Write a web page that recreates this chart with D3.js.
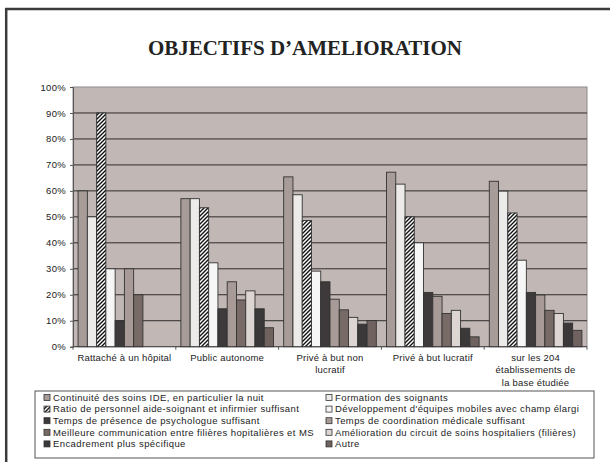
<!DOCTYPE html>
<html>
<head>
<meta charset="utf-8">
<script src="https://cdn.jsdelivr.net/npm/d3@7"></script>
<style>
    body { margin: 0; background: #fff; }
    svg { display: block; }
</style>
</head>
<body>
<svg id="diagram" width="610" height="462"></svg>
<script>
// daten
var kategorien = [
    ["Rattaché à un hôpital"],
    ["Public autonome"],
    ["Privé à but non", "lucratif"],
    ["Privé à but lucratif"],
    ["sur les 204", "établissements de", "la base étudiée"]
];

var serienNamen = [
    "Continuité des soins IDE, en particulier la nuit",
    "Formation des soignants",
    "Ratio de personnel aide-soignant et infirmier suffisant",
    "Développement d'équipes mobiles avec champ élargi",
    "Temps de présence de psychologue suffisant",
    "Temps de coordination médicale suffisant",
    "Meilleure communication entre filières hopitalières et MS",
    "Amélioration du circuit de soins hospitaliers (filières)",
    "Encadrement plus spécifique",
    "Autre"
];

var continuite   = [60, 57, 65.4, 67.2, 63.7];
var formation    = [50, 57, 58.5, 62.6, 59.9];
var ratio        = [90, 53.5, 48.6, 50, 51.5];
var equipes      = [30, 32.3, 29.1, 40, 33.3];
var psychologue  = [10, 14.6, 25, 20.9, 20.9];
var coordination = [30, 25, 18.3, 19.4, 19.9];
var communication = [20, 18, 14.2, 12.8, 14];
var circuit      = [0, 21.5, 11.3, 14, 12.8];
var encadrement  = [0, 14.6, 8.7, 7.1, 9.1];
var autre        = [0, 7.3, 10.1, 3.8, 6.3];

var yTicks = [0, 10, 20, 30, 40, 50, 60, 70, 80, 90, 100];

var serienWerte = [continuite, formation, ratio, equipes, psychologue,
    coordination, communication, circuit, encadrement, autre];

var farben = ["#a89c98", "#ecebea", "url(#hatch)", "#f6f6f6", "#3e3a3b",
    "#a89a96", "#786a67", "#ddd5d2", "#3a3839", "#6f625f"];

var svg = d3.select("#diagram");
var font = "'Liberation Sans', Arial, sans-serif";

var defs = svg.append("defs");
var pat = defs.append("pattern")
    .attr("id", "hatch")
    .attr("patternUnits", "userSpaceOnUse")
    .attr("width", 4)
    .attr("height", 4);
pat.append("rect").attr("width", 4).attr("height", 4).attr("fill", "#fff");
pat.append("path")
    .attr("d", "M-1,1 l2,-2 M0,4 l4,-4 M3,5 l2,-2")
    .attr("stroke", "#111")
    .attr("stroke-width", 1.4);

// rahmen
svg.append("path")
    .attr("d", "M6.2,462 V9 H610")
    .attr("fill", "none")
    .attr("stroke", "#3c3c3e")
    .attr("stroke-width", 2.5);

svg.append("text")
    .attr("x", 305)
    .attr("y", 55)
    .attr("text-anchor", "middle")
    .attr("font-family", "'Liberation Serif', 'Times New Roman', serif")
    .attr("font-weight", "bold")
    .attr("font-size", 21)
    .attr("fill", "#222")
    .text("OBJECTIFS D\u2019AMELIORATION");

// plot
var plotLeft = 73, plotRight = 587, plotTop = 87, plotBottom = 346.7;

var xScale = d3.scaleBand().domain(d3.range(kategorien.length)).range([plotLeft, plotRight]).padding(0);
var sScale = d3.scaleBand().domain(d3.range(serienNamen.length))
    .range([0, xScale.bandwidth()]).paddingInner(0).paddingOuter(0.55);
var yScale = d3.scaleLinear().domain([0, 100]).range([plotBottom, plotTop]);

svg.append("rect")
    .attr("x", plotLeft).attr("y", plotTop)
    .attr("width", plotRight - plotLeft).attr("height", plotBottom - plotTop)
    .attr("fill", "#c1b8b5")
    .attr("stroke", "#8e8a8a")
    .attr("stroke-width", 1);

svg.append("g")
    .selectAll("line")
    .data(yTicks.filter(function (d) { return d > 0 && d < 100; }))
    .enter().append("line")
    .attr("x1", plotLeft).attr("x2", plotRight)
    .attr("y1", function (d) { return yScale(d); })
    .attr("y2", function (d) { return yScale(d); })
    .attr("stroke", "#2e2b2b")
    .attr("stroke-width", 1);

// y-achse
var yAxis = svg.append("g")
    .attr("transform", "translate(" + plotLeft + ",0)")
    .call(d3.axisLeft(yScale).tickValues(yTicks).tickSize(3).tickPadding(4)
        .tickFormat(function (d) { return d + "%"; }));
yAxis.select(".domain").attr("stroke", "#555");
yAxis.selectAll(".tick line").attr("stroke", "#555");
yAxis.selectAll("text")
    .attr("font-family", font)
    .attr("font-size", 9.5)
    .attr("letter-spacing", 0.3)
    .attr("fill", "#222");

// x-achse
var xAxis = svg.append("g")
    .attr("transform", "translate(0," + plotBottom + ")");
xAxis.append("line")
    .attr("x1", plotLeft).attr("x2", plotRight)
    .attr("stroke", "#444");
xAxis.selectAll(".xt")
    .data(d3.range(kategorien.length + 1))
    .enter().append("line")
    .attr("class", "xt")
    .attr("x1", function (d) { return plotLeft + d * xScale.step(); })
    .attr("x2", function (d) { return plotLeft + d * xScale.step(); })
    .attr("y1", 0).attr("y2", 3)
    .attr("stroke", "#555");

xAxis.selectAll(".xl")
    .data(kategorien)
    .enter().append("text")
    .attr("class", "xl")
    .attr("text-anchor", "middle")
    .attr("font-family", font)
    .attr("font-size", 9.5)
    .attr("letter-spacing", 0.2)
    .attr("fill", "#222")
    .each(function (d, i) {
        var t = d3.select(this);
        d.forEach(function (zeile, j) {
            t.append("tspan")
                .attr("x", xScale(i) + xScale.bandwidth() / 2)
                .attr("y", 14.5 + j * 12.3)
                .text(zeile);
        });
    });

// balken
serienWerte.forEach(function (werte, s) {
    svg.append("g")
        .selectAll("rect")
        .data(werte.map(function (v, i) { return { k: i, v: v }; })
            .filter(function (d) { return d.v > 0; }))
        .enter().append("rect")
        .attr("x", function (d) { return xScale(d.k) + sScale(s); })
        .attr("y", function (d) { return yScale(d.v); })
        .attr("width", sScale.bandwidth())
        .attr("height", function (d) { return plotBottom - yScale(d.v); })
        .attr("fill", farben[s])
        .attr("stroke", "#333")
        .attr("stroke-width", 0.9);
});

// legende
svg.append("rect")
    .attr("x", 35).attr("y", 391)
    .attr("width", 559).attr("height", 67)
    .attr("fill", "#fff")
    .attr("stroke", "#555")
    .attr("stroke-width", 1);

var legend = svg.append("g").selectAll("g")
    .data(serienNamen)
    .enter().append("g")
    .attr("transform", function (d, i) {
        var x = i % 2 === 0 ? 44 : 326;
        var y = 397.5 + Math.floor(i / 2) * 11.6;
        return "translate(" + x + "," + y + ")";
    });

legend.append("rect")
    .attr("x", 0).attr("y", -3)
    .attr("width", 6).attr("height", 6)
    .attr("fill", function (d, i) { return farben[i]; })
    .attr("stroke", "#333")
    .attr("stroke-width", 0.8);

legend.append("text")
    .attr("x", 9)
    .attr("y", 3.3)
    .attr("font-family", font)
    .attr("font-size", 9.5)
    .attr("letter-spacing", 0.4)
    .attr("fill", "#222")
    .text(function (d) { return d; });
</script>
</body>
</html>
